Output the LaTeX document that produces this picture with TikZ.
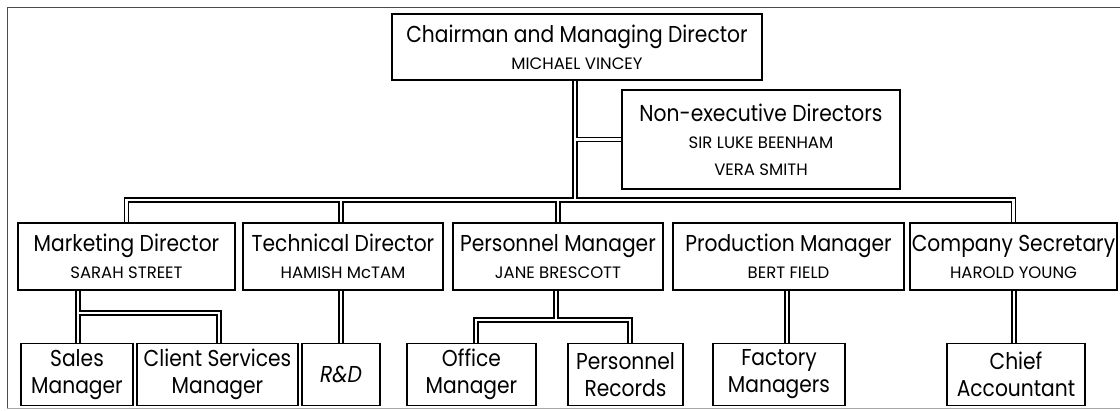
\documentclass[tikz,border=0pt]{standalone}
\usepackage{fontspec}
\setmainfont{Poppins}
\newfontfamily\TitleFam[FakeStretch=0.88]{Poppins}
\usetikzlibrary{backgrounds}
\newcommand\TitleF{\TitleFam\fontsize{23}{27}\selectfont}
\newcommand\NameF{\normalfont\fontsize{16.5}{27}\selectfont}
\begin{document}
\begin{tikzpicture}[x=1pt,y=-1pt,
  box/.style={draw, line width=1.4pt, fill=white, inner sep=0pt, align=center, font=\TitleF},
  conn/.style={draw, line width=1.3pt, double=white, double distance=2.6pt, line join=miter}]
\useasboundingbox (0,0) rectangle (1120,411);
\draw[black!70, line width=0.9pt] (1120,7) -- (7,7) -- (7,408);
\draw[black!35, line width=0.8pt] (7,408) -- (1120,408);
% top level
\node[box, minimum width=370pt, minimum height=66pt] (chair) at (577,47)
  {Chairman and Managing Director\\\NameF MICHAEL VINCEY};
\node[box, minimum width=278pt, minimum height=99pt] (nonexec) at (761,139.5)
  {Non-executive Directors\\\NameF SIR LUKE BEENHAM\\\NameF VERA SMITH};
% second row
\node[box, minimum width=217pt, minimum height=67pt] (mkt) at (126.5,256.5)
  {Marketing Director\\\NameF SARAH STREET};
\node[box, minimum width=200pt, minimum height=67pt] (tech) at (343,256.5)
  {Technical Director\\\NameF HAMISH McTAM};
\node[box, minimum width=210pt, minimum height=67pt] (pers) at (558,256.5)
  {Personnel Manager\\\NameF JANE BRESCOTT};
\node[box, minimum width=231pt, minimum height=67pt] (prod) at (788.5,256.5)
  {Production Manager\\\NameF BERT FIELD};
\node[box, minimum width=207pt, minimum height=67pt] (comp) at (1013.5,256.5)
  {Company Secretary\\\NameF HAROLD YOUNG};
% third row
\node[box, minimum width=112pt, minimum height=62pt] (sales) at (77,374.5)
  {Sales\\Manager};
\node[box, minimum width=161pt, minimum height=62pt] (client) at (217.5,374.5)
  {Client Services\\Manager};
\node[box, minimum width=78pt, minimum height=62pt] (rd) at (341,374.5)
  {\itshape R\&D};
\node[box, minimum width=129pt, minimum height=62pt] (office) at (471.5,374.5)
  {Office\\Manager};
\node[box, minimum width=115pt, minimum height=62pt] (precs) at (625.5,374.5)
  {Personnel\\Records};
\node[box, minimum width=132pt, minimum height=62pt] (fact) at (779,374.5)
  {Factory\\Managers};
\node[box, minimum width=138pt, minimum height=62pt] (chief) at (1016,374.5)
  {Chief\\Accountant};
% connectors
\begin{scope}[on background layer]
\fill[white] (0,0) rectangle (1120,411);
\coordinate (tk) at (575,200);
\coordinate (sm) at (0,313);
\coordinate (sp) at (556,320);
\coordinate (xs) at (78,0);
\coordinate (xc) at (219,0);
\coordinate (xo) at (476,0);
\coordinate (xr) at (630,0);
\coordinate (xf) at (787,0);
\coordinate (xa) at (1014,0);
\coordinate (xt) at (341,0);
\path[conn]
  (chair.south -| tk) -- (tk)
  (tk |- nonexec.west) -- (nonexec.west)
  (mkt.north) -- (mkt.north |- tk) -- (comp.north |- tk) -- (comp.north)
  (tech.north -| xt) |- (tk)
  (pers.north |- tk) -- (pers.north)
  (prod.north -| xf) -- (prod.north -| xf |- tk)
  (mkt.south -| xs) -- (sales.north -| xs)
  (sm -| xs) -- (sm -| xc) -- (client.north -| xc)
  (tech.south -| xt) -- (rd.north -| xt)
  (pers.south -| sp) -- (sp)
  (office.north -| xo) -- (sp -| xo) -- (sp -| xr) -- (precs.north -| xr)
  (prod.south -| xf) -- (fact.north -| xf)
  (comp.south -| xa) -- (chief.north -| xa);
\end{scope}
\end{tikzpicture}
\end{document}
